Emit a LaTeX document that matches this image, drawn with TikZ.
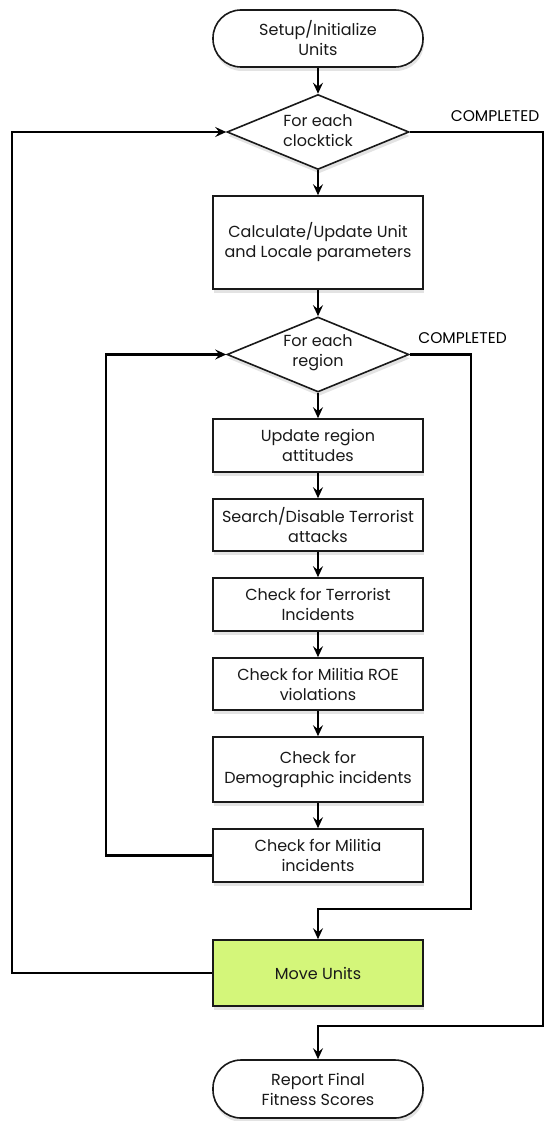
\documentclass[tikz,border=0pt]{standalone}
\usepackage{fontspec}
\setmainfont{Poppins}
\usetikzlibrary{shapes.geometric,arrows.meta,shadows}
\definecolor{movegreen}{RGB}{212,246,122}
\definecolor{edgecol}{RGB}{25,25,25}
\begin{document}
\begin{tikzpicture}[x=1pt,y=-1pt,
  shd/.style={drop shadow={opacity=0.22,shadow xshift=1pt,shadow yshift=-4pt}},
  txt/.style={font=\fontsize{16}{20}\selectfont,align=center,text=edgecol},
  procbox/.style={draw=edgecol,line width=1.6pt,fill=white,rectangle,minimum width=210pt,inner sep=0pt,shd,txt},
  termbox/.style={procbox,rounded corners=28pt},
  decbox/.style={draw=edgecol,line width=1.6pt,fill=white,diamond,minimum width=182pt,minimum height=75pt,inner sep=0pt,shd},
  arr/.style={line width=2.8pt,draw=black,-{Stealth[length=11pt,width=10pt,inset=4pt]}},
  lab/.style={font=\fontsize{15.5}{18}\selectfont,text=black}]
\useasboundingbox (0,0) rectangle (548,1121);
\node[termbox,minimum height=57pt] (start) at (318,38.5) {Setup/Initialize\\Units};
\node[decbox] (d1) at (318,132) {};
\node[txt] (d1t) at (318,130.5) {For each\\clocktick};
\node[procbox,minimum height=93pt] (calc) at (318,242.5) {Calculate/Update Unit\\and Locale parameters};
\node[decbox] (d2) at (318,354.5) {};
\node[txt] (d2t) at (318,353) {For each\\region};
\node[procbox,minimum height=53pt] (b1) at (318,445.5) {Update region\\attitudes};
\node[procbox,minimum height=52pt] (b2) at (318,525) {Search/Disable Terrorist\\attacks};
\node[procbox,minimum height=53pt] (b3) at (318,604.5) {Check for Terrorist\\Incidents};
\node[procbox,minimum height=52pt] (b4) at (318,684) {Check for Militia ROE\\violations};
\node[procbox,minimum height=65pt] (b5) at (318,769.5) {Check for\\Demographic incidents};
\node[procbox,minimum height=53pt] (b6) at (318,855.5) {Check for Militia\\incidents};
\node[procbox,minimum height=66pt,fill=movegreen] (move) at (318,973) {Move Units};
\node[termbox,minimum height=58pt] (stop) at (318,1089) {Report Final\\Fitness Scores};
\node[lab] (c1) at (495,116) {COMPLETED};
\node[lab] (c2) at (462.5,338) {COMPLETED};
\coordinate (lo) at (12,973);
\coordinate (li) at (106,855.5);
\coordinate (ri) at (471,909);
\coordinate (ro) at (543,1026);
\draw[arr] (start) -- (d1);
\draw[arr] (d1) -- (calc);
\draw[arr] (calc) -- (d2);
\draw[arr] (d2) -- (b1);
\draw[arr] (b1) -- (b2);
\draw[arr] (b2) -- (b3);
\draw[arr] (b3) -- (b4);
\draw[arr] (b4) -- (b5);
\draw[arr] (b5) -- (b6);
\draw[arr] (b6.west) -- (li) |- (d2.west);
\draw[arr] (move.west) -- (lo) |- (d1.west);
\draw[arr] (d2.east) -| (ri) -| (move.north);
\draw[arr] (d1.east) -| (ro) -| (stop.north);
\end{tikzpicture}
\end{document}
